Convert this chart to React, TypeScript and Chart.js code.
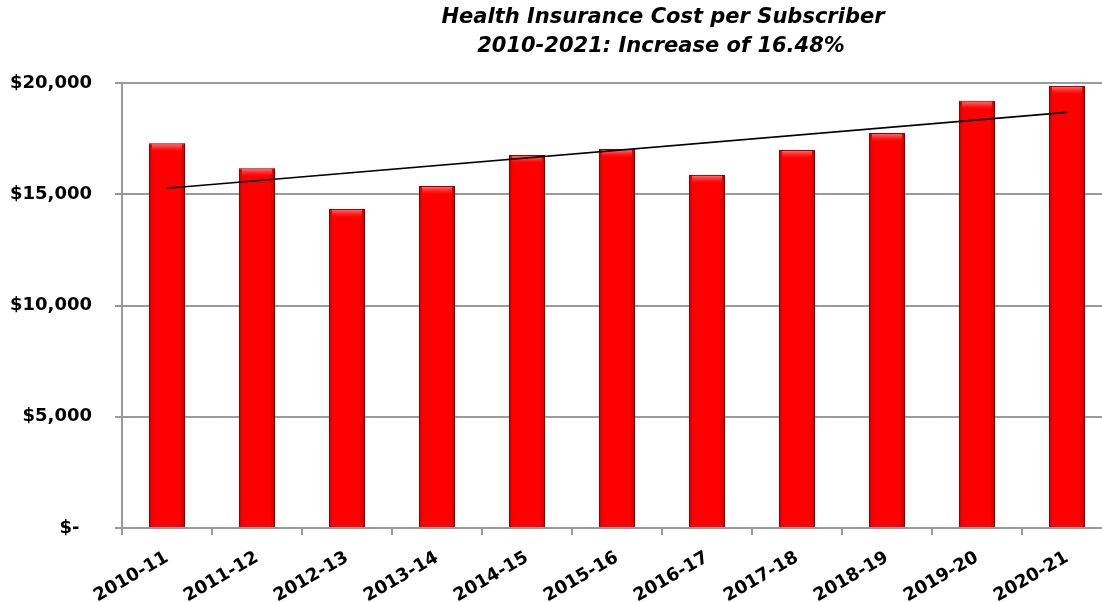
import React, { useEffect, useRef } from "react";
import { Chart, registerables } from "chart.js";

Chart.register(...registerables);

const categories = [
  "2010-11", "2011-12", "2012-13", "2013-14", "2014-15", "2015-16",
  "2016-17", "2017-18", "2018-19", "2019-20", "2020-21",
];
const costPerSubscriber = [
  17290, 16170, 14340, 15370, 16760, 17030, 15870, 16990, 17750, 19200, 19870,
];
// linear trendline (first and last category)
const trendStart = 15270;
const trendEnd = 18680;
const yTickLabels = ["$-  ", "$5,000", "$10,000", "$15,000", "$20,000"];
const titleLines = [
  "Health Insurance Cost per Subscriber",
  "2010-2021: Increase of 16.48%",
];

const FONT = "'DejaVu Sans', sans-serif";

const titlePlugin = {
  id: "customTitle",
  afterDraw(chart: any) {
    const ctx = chart.ctx;
    ctx.save();
    ctx.fillStyle = "#000";
    ctx.font = `italic bold 21px ${FONT}`;
    ctx.textAlign = "center";
    ctx.textBaseline = "middle";
    ctx.fillText(titleLines[0], 663, 18);
    ctx.fillText(titleLines[1], 661, 47);
    ctx.restore();
  },
};

const barStylePlugin = {
  id: "barStyle",
  beforeDatasetDraw(chart: any, args: any) {
    if (args.index !== 1) return;
    const ctx = chart.ctx;
    ctx.save();
    ctx.shadowColor = "rgba(0,0,0,0.25)";
    ctx.shadowOffsetX = 2;
    ctx.shadowOffsetY = 1;
    ctx.shadowBlur = 3;
  },
  afterDatasetDraw(chart: any, args: any) {
    if (args.index !== 1) return;
    const ctx = chart.ctx;
    ctx.restore();
    const meta = chart.getDatasetMeta(1);
    ctx.save();
    meta.data.forEach((bar: any) => {
      const { x, y, base, width } = bar.getProps(["x", "y", "base", "width"], true);
      const left = x - width / 2;
      const right = x + width / 2;
      const g = ctx.createLinearGradient(left, 0, right, 0);
      g.addColorStop(0, "rgba(120,0,0,0.35)");
      g.addColorStop(0.12, "rgba(120,0,0,0)");
      g.addColorStop(0.85, "rgba(120,0,0,0)");
      g.addColorStop(1, "rgba(120,0,0,0.4)");
      ctx.fillStyle = g;
      ctx.fillRect(left, y, width, base - y);
      const tg = ctx.createLinearGradient(0, y, 0, y + 9);
      tg.addColorStop(0, "rgba(255,140,140,0.9)");
      tg.addColorStop(0.5, "rgba(255,70,70,0.6)");
      tg.addColorStop(1, "rgba(255,0,0,0)");
      ctx.fillStyle = tg;
      ctx.fillRect(left + 3, y + 1, width - 6, 9);
    });
    ctx.restore();
  },
};

export default function App() {
  const canvasRef = useRef<HTMLCanvasElement | null>(null);

  useEffect(() => {
    if (!canvasRef.current) return;
    const trendData = categories.map((_, i) =>
      i === 0 ? trendStart : i === categories.length - 1 ? trendEnd : null
    );
    const chart = new Chart(canvasRef.current, {
      type: "bar",
      data: {
        labels: categories,
        datasets: [
          {
            type: "line",
            label: "Trend",
            data: trendData as any,
            borderColor: "#000",
            borderWidth: 1.6,
            pointRadius: 0,
            spanGaps: true,
            order: 0,
          } as any,
          {
            type: "bar",
            label: "Cost per Subscriber",
            data: costPerSubscriber,
            backgroundColor: "#ff0000",
            borderColor: "#a00000",
            borderWidth: 1,
            barPercentage: 0.4,
            categoryPercentage: 1,
            order: 1,
          },
        ],
      },
      options: {
        responsive: false,
        animation: false,
        devicePixelRatio: 1,
        layout: { padding: { top: 83, right: 2, bottom: 0, left: 0 } },
        plugins: {
          legend: { display: false },
          title: { display: false },
          tooltip: { enabled: false },
        },
        scales: {
          x: {
            grid: {
              offset: true,
              drawOnChartArea: false,
              drawTicks: true,
              tickLength: 7,
              color: "#9a9a9a",
              lineWidth: 2,
            },
            border: { color: "#9a9a9a", width: 2 },
            ticks: {
              color: "#000",
              font: { family: FONT, weight: "bold", size: 18 },
              minRotation: 30,
              maxRotation: 30,
              padding: 12,
            },
            afterFit(scale: any) {
              scale.height = 74;
            },
          },
          y: {
            min: 0,
            max: 20000,
            grid: {
              color: "#9a9a9a",
              lineWidth: 2,
              tickLength: 7,
            },
            border: { color: "#9a9a9a", width: 2 },
            ticks: {
              stepSize: 5000,
              color: "#000",
              padding: 23,
              font: { family: FONT, weight: "bold", size: 18 },
              callback: (_v: any, i: number) => yTickLabels[i],
            },
            afterFit(scale: any) {
              scale.width = 122;
            },
          },
        },
      },
      plugins: [titlePlugin, barStylePlugin],
    });
    return () => chart.destroy();
  }, []);

  return (
    <div
      style={{
        position: "absolute",
        left: 0,
        top: 0,
        width: 1102,
        height: 602,
        overflow: "hidden",
        background: "#fff",
      }}
    >
      <canvas ref={canvasRef} width={1114} height={602} />
    </div>
  );
}
